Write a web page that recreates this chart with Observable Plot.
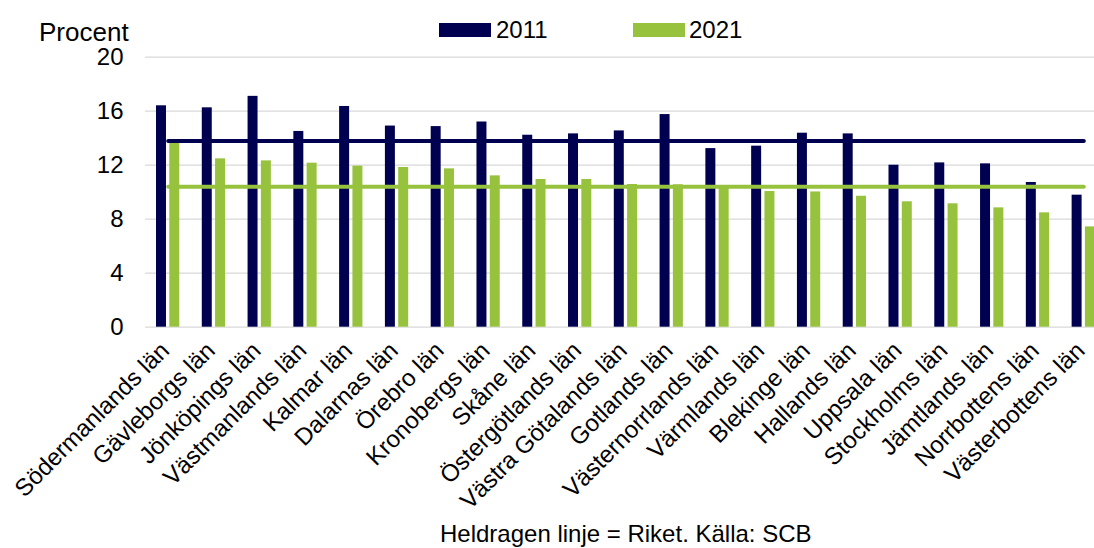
<!DOCTYPE html>
<html><head><meta charset="utf-8">
<script src="https://cdn.jsdelivr.net/npm/d3@7"></script>
<script src="https://cdn.jsdelivr.net/npm/@observablehq/plot@0.6"></script>
<style>
body{margin:0;background:#fff;font-family:"Liberation Sans",Arial,sans-serif;}
#wrap{position:relative;width:1094px;height:548px;overflow:hidden;}
#chart{position:absolute;left:0;top:0;}
.t{position:absolute;white-space:nowrap;line-height:1;color:#000;}
.sw{position:absolute;width:52px;height:14px;}
</style></head><body>
<div id="wrap">
<div id="chart"></div>
<div class="t" id="ylab" style="left:39px;top:18.5px;font-size:26px"></div>
<div class="sw" id="sw0" style="left:439px;top:23px"></div>
<div class="t" id="lg0" style="left:496px;top:18px;font-size:24px"></div>
<div class="sw" id="sw1" style="left:633px;top:23px"></div>
<div class="t" id="lg1" style="left:689px;top:18px;font-size:24px"></div>
<div class="t" id="cap" style="left:440px;top:522px;font-size:24px"></div>
</div>
<script>
const regions = ["Södermanlands län","Gävleborgs län","Jönköpings län","Västmanlands län","Kalmar län","Dalarnas län","Örebro län","Kronobergs län","Skåne län","Östergötlands län","Västra Götalands län","Gotlands län","Västernorrlands län","Värmlands län","Blekinge län","Hallands län","Uppsala län","Stockholms län","Jämtlands län","Norrbottens län","Västerbottens län"];
const values2011 = [16.4,16.25,17.1,14.5,16.35,14.9,14.86,15.2,14.22,14.32,14.54,15.75,13.23,13.41,14.37,14.32,12.0,12.17,12.1,10.72,9.78];
const values2021 = [13.66,12.47,12.32,12.15,11.93,11.83,11.73,11.21,10.94,10.94,10.57,10.55,10.4,10.05,10.02,9.7,9.29,9.14,8.84,8.47,7.43];
const riket2011 = 13.8;
const riket2021 = 10.4;
const years = ["2011","2021"];
const colors = ["#000050","#97c23d"];
const yTicks = [0,4,8,12,16,20];
const yLabel = "Procent";
const caption = "Heldragen linje = Riket. Källa: SCB";

document.getElementById("ylab").textContent = yLabel;
document.getElementById("cap").textContent = caption;
years.forEach((y,i)=>{
  document.getElementById("lg"+i).textContent = y;
  document.getElementById("sw"+i).style.background = colors[i];
});

const rows2011 = regions.map((r,i)=>({region:r, value:values2011[i]}));
const rows2021 = regions.map((r,i)=>({region:r, value:values2021[i]}));

const chart = Plot.plot({
  width:1094, height:548,
  marginTop:56.7, marginBottom:221.3, marginLeft:145, marginRight:0,
  style:{fontFamily:"'Liberation Sans', Arial, sans-serif", fontSize:"24px", color:"#000", background:"transparent", overflow:"hidden"},
  x:{type:"band", domain:regions, range:[144.8,1106.2], padding:0, round:false, label:null},
  y:{domain:[0,20], label:null},
  marks:[
    Plot.gridY(yTicks, {stroke:"#d9d9d9", strokeOpacity:1, strokeWidth:1.3}),
    Plot.barY(rows2011, {x:"region", y:"value", fill:colors[0], insetLeft:11.2, insetRight:24.6}),
    Plot.barY(rows2021, {x:"region", y:"value", fill:colors[1], insetLeft:24.5, insetRight:11.3}),
    Plot.lineY(regions, {x:d=>d, y:()=>riket2011, stroke:colors[0], strokeWidth:4, strokeLinecap:"round"}),
    Plot.lineY(regions, {x:d=>d, y:()=>riket2021, stroke:colors[1], strokeWidth:4, strokeLinecap:"round"}),
    Plot.axisY(yTicks, {tickSize:0, tickPadding:22, fontSize:24, label:null}),
    Plot.axisX({tickSize:0, tickPadding:6, tickRotate:-45, fontSize:24, dx:-3, dy:13.3, label:null})
  ]
});
document.getElementById("chart").appendChild(chart);
</script>
</body></html>
